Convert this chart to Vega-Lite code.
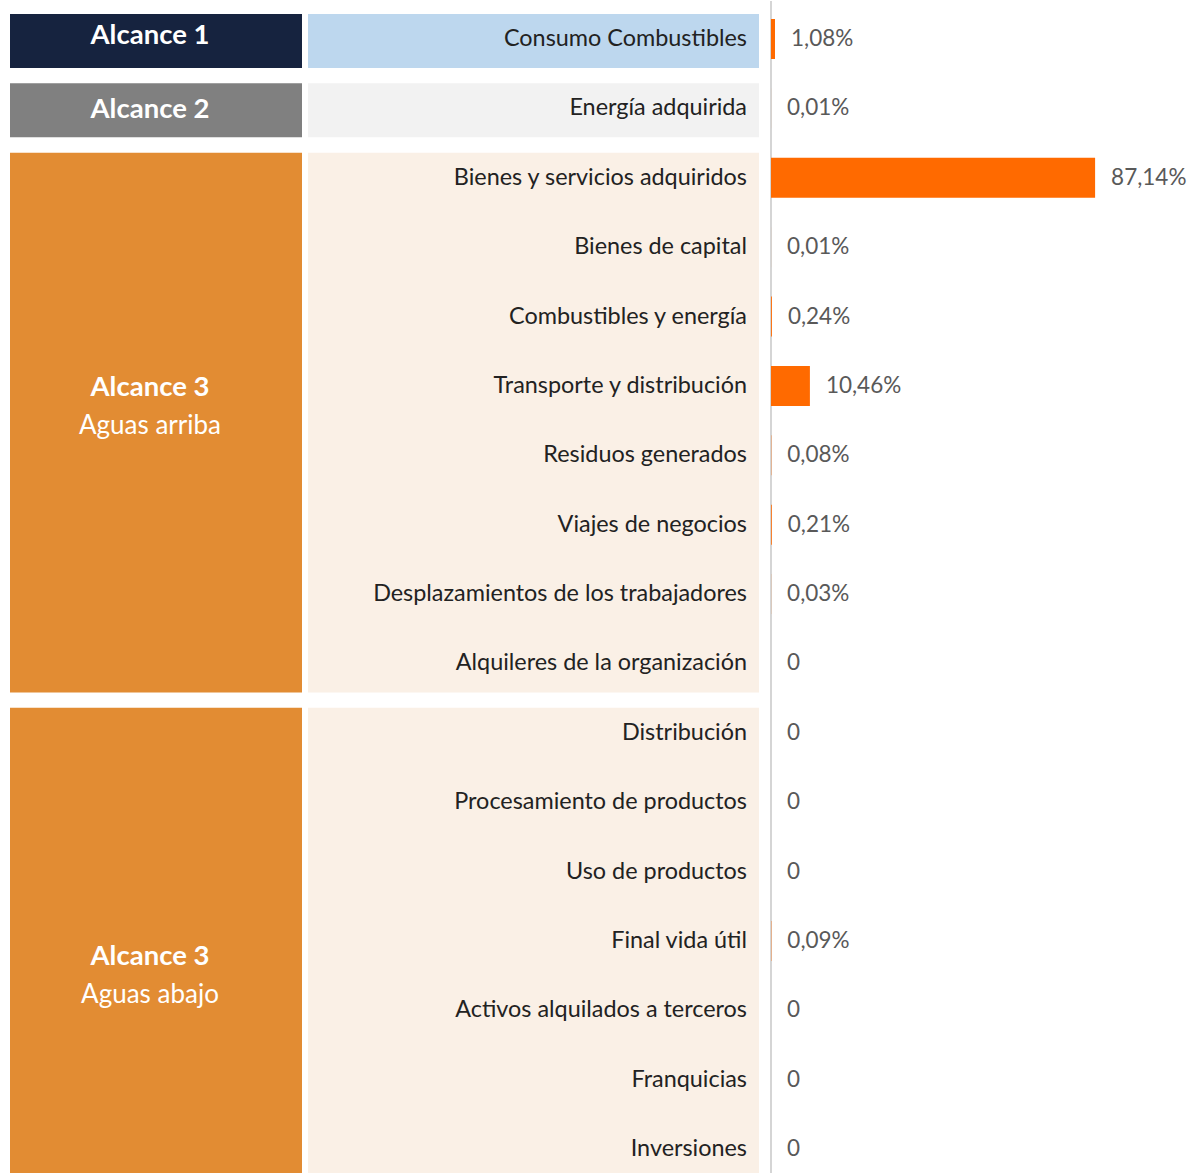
{
  "$schema": "https://vega.github.io/schema/vega-lite/v6.json",
  "padding": {"left": 10, "top": 0, "right": 0, "bottom": 0},
  "background": "white",
  "config": {"view": {"stroke": null}, "font": "Lato"},
  "datasets": {
    "filas": [
      {"fila": 0, "categoria": "Consumo Combustibles", "valor": 1.08, "etiqueta": "1,08%"},
      {"fila": 1, "categoria": "Energía adquirida", "valor": 0.01, "etiqueta": "0,01%"},
      {"fila": 2, "categoria": "Bienes y servicios adquiridos", "valor": 87.14, "etiqueta": "87,14%"},
      {"fila": 3, "categoria": "Bienes de capital", "valor": 0.01, "etiqueta": "0,01%"},
      {"fila": 4, "categoria": "Combustibles y energía", "valor": 0.24, "etiqueta": "0,24%"},
      {"fila": 5, "categoria": "Transporte y distribución", "valor": 10.46, "etiqueta": "10,46%"},
      {"fila": 6, "categoria": "Residuos generados", "valor": 0.08, "etiqueta": "0,08%"},
      {"fila": 7, "categoria": "Viajes de negocios", "valor": 0.21, "etiqueta": "0,21%"},
      {"fila": 8, "categoria": "Desplazamientos de los trabajadores", "valor": 0.03, "etiqueta": "0,03%"},
      {"fila": 9, "categoria": "Alquileres de la organización", "valor": 0, "etiqueta": "0"},
      {"fila": 10, "categoria": "Distribución", "valor": 0, "etiqueta": "0"},
      {"fila": 11, "categoria": "Procesamiento de productos", "valor": 0, "etiqueta": "0"},
      {"fila": 12, "categoria": "Uso de productos", "valor": 0, "etiqueta": "0"},
      {"fila": 13, "categoria": "Final vida útil", "valor": 0.09, "etiqueta": "0,09%"},
      {"fila": 14, "categoria": "Activos alquilados a terceros", "valor": 0, "etiqueta": "0"},
      {"fila": 15, "categoria": "Franquicias", "valor": 0, "etiqueta": "0"},
      {"fila": 16, "categoria": "Inversiones", "valor": 0, "etiqueta": "0"}
    ],
    "alcances": [
      {"grupo": "A1", "alcance": "Alcance 1", "sub": "", "desde": 0, "hasta": 0, "centro": -0.05},
      {"grupo": "A2", "alcance": "Alcance 2", "sub": "", "desde": 1, "hasta": 1, "centro": 1.03},
      {"grupo": "A3a", "alcance": "Alcance 3", "sub": "Aguas arriba", "desde": 2, "hasta": 9, "centro": 5.3},
      {"grupo": "A3b", "alcance": "Alcance 3", "sub": "Aguas abajo", "desde": 10, "hasta": 16, "centro": 13.5}
    ]
  },
  "resolve": {"scale": {"color": "independent", "y": "independent", "x": "independent"}},
  "spacing": 11,
  "hconcat": [
    {
      "spacing": 6,
      "resolve": {"scale": {"color": "independent", "y": "independent", "x": "independent"}},
      "hconcat": [
        {
          "width": 292,
          "height": 1173,
          "data": {"name": "alcances"},
          "layer": [
            {
              "mark": {"type": "rect", "yOffset": -25, "y2Offset": 29},
              "encoding": {
                "x": {"value": 0},
                "x2": {"value": "width"},
                "y": {"field": "desde", "type": "quantitative", "axis": null,
                      "scale": {"domain": [-0.5477, 16.36], "reverse": true, "nice": false, "zero": false}},
                "y2": {"field": "hasta"},
                "color": {"field": "grupo", "type": "nominal", "legend": null,
                          "scale": {"domain": ["A1", "A2", "A3a", "A3b"], "range": ["#16233F", "#808080", "#E28C33", "#E28C33"]}}
              }
            },
            {
              "transform": [{"filter": "datum.sub == ''"}],
              "mark": {"type": "text", "color": "white", "fontWeight": "bold", "fontSize": 27.5, "baseline": "middle", "align": "center"},
              "encoding": {
                "x": {"value": 140},
                "y": {"field": "centro", "type": "quantitative"},
                "text": {"field": "alcance"}
              }
            },
            {
              "transform": [{"filter": "datum.sub != ''"}],
              "mark": {"type": "text", "color": "white", "fontWeight": "bold", "fontSize": 27.5, "baseline": "middle", "align": "center", "dy": -19},
              "encoding": {
                "x": {"value": 140},
                "y": {"field": "centro", "type": "quantitative"},
                "text": {"field": "alcance"}
              }
            },
            {
              "transform": [{"filter": "datum.sub != ''"}],
              "mark": {"type": "text", "color": "white", "fontSize": 26, "baseline": "middle", "align": "center", "dy": 19},
              "encoding": {
                "x": {"value": 140},
                "y": {"field": "centro", "type": "quantitative"},
                "text": {"field": "sub"}
              }
            }
          ]
        },
        {
          "width": 451,
          "height": 1173,
          "layer": [
            {
              "data": {"name": "alcances"},
              "mark": {"type": "rect", "yOffset": -25, "y2Offset": 29},
              "encoding": {
                "x": {"value": 0},
                "x2": {"value": "width"},
                "y": {"field": "desde", "type": "quantitative", "axis": null,
                      "scale": {"domain": [-0.5477, 16.36], "reverse": true, "nice": false, "zero": false}},
                "y2": {"field": "hasta"},
                "color": {"field": "grupo", "type": "nominal", "legend": null,
                          "scale": {"domain": ["A1", "A2", "A3a", "A3b"], "range": ["#BDD7EE", "#F2F2F2", "#FAF0E6", "#FAF0E6"]}}
              }
            },
            {
              "data": {"name": "filas"},
              "mark": {"type": "text", "color": "#222222", "fontSize": 23.4, "baseline": "middle", "align": "right", "dx": -12},
              "encoding": {
                "x": {"value": "width"},
                "y": {"field": "fila", "type": "quantitative"},
                "text": {"field": "categoria"}
              }
            }
          ]
        }
      ]
    },
    {
      "width": 424,
      "height": 1173,
      "data": {"name": "filas"},
      "layer": [
        {
          "mark": {"type": "rule", "color": "#D4D4D4", "strokeWidth": 1.5},
          "encoding": {
            "x": {"datum": 0, "type": "quantitative", "axis": null,
                  "scale": {"domain": [0, 114], "nice": false, "zero": false}}
          }
        },
        {
          "mark": {"type": "rect", "color": "#FF6A00", "yOffset": -20, "y2Offset": 20},
          "encoding": {
            "x": {"field": "valor", "type": "quantitative", "axis": null,
                  "scale": {"domain": [0, 114], "nice": false, "zero": false}},
            "x2": {"datum": 0},
            "y": {"field": "fila", "type": "quantitative", "axis": null,
                  "scale": {"domain": [-0.5477, 16.36], "reverse": true, "nice": false, "zero": false}},
            "y2": {"field": "fila"}
          }
        },
        {
          "mark": {"type": "text", "color": "#595959", "fontSize": 22.5, "baseline": "middle", "align": "left", "dx": 16},
          "encoding": {
            "x": {"field": "valor", "type": "quantitative"},
            "y": {"field": "fila", "type": "quantitative"},
            "text": {"field": "etiqueta"}
          }
        }
      ]
    }
  ]
}
